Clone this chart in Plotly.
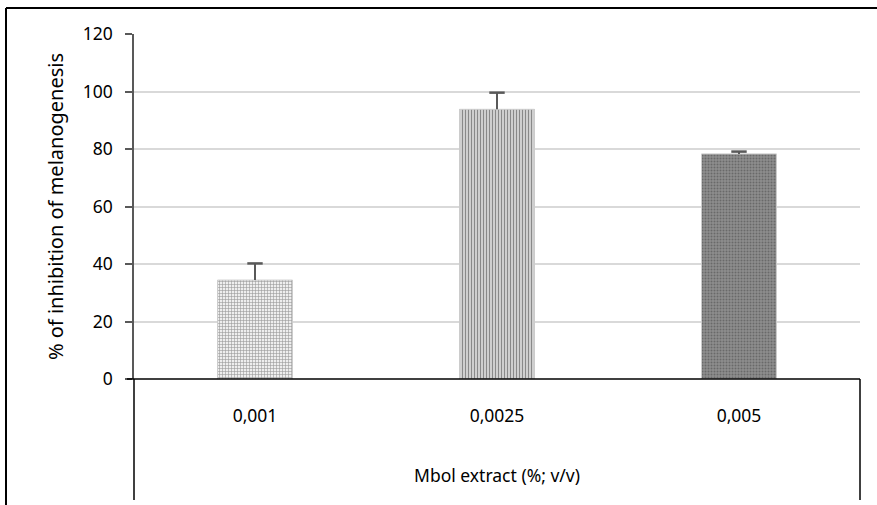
import plotly.graph_objects as go

categories = ["0,001", "0,0025", "0,005"]
values = [34.4, 93.8, 78.3]
errors = [5.8, 5.8, 0.8]
y_ticks = [0, 20, 40, 60, 80, 100, 120]

pattern_shapes = ["+", "|", "."]
pattern_bg = ["#eeeeee", "#cfcfcf", "#8e8e8e"]
pattern_fg = ["#dadada", "#b0b0b0", "#7c7c7c"]

fig = go.Figure()
fig.add_trace(go.Bar(
    x=categories, y=values,
    width=0.31,
    marker=dict(
        color=pattern_bg,
        pattern=dict(shape=pattern_shapes, bgcolor=pattern_bg, fgcolor=pattern_fg,
                     size=3, solidity=0.35),
        line=dict(color="#cccccc", width=1),
    ),
    showlegend=False,
))
# error bars: stem drawn downward from the top, cap as a marker (no cap at bar top)
tops = [v + e for v, e in zip(values, errors)]
fig.add_trace(go.Scatter(
    x=categories, y=tops, mode="markers",
    marker=dict(symbol="line-ew", size=11, line=dict(color="#595959", width=2.5)),
    error_y=dict(type="data", symmetric=False, array=[0, 0, 0], arrayminus=errors,
                 color="#595959", thickness=2, width=0),
    showlegend=False, hoverinfo="skip",
))

L, R, T, B = 134, 860, 34, 379
W, H = 877, 505
pw, ph = R - L, B - T

def px(x):
    return (x - L) / pw

def py(y):
    return (B - y) / ph

font = "Noto Sans, Liberation Sans, sans-serif"
fig.update_layout(
    width=W, height=H,
    margin=dict(l=L, r=W - R, t=T, b=H - B),
    paper_bgcolor="white", plot_bgcolor="white",
    font=dict(family=font, size=17, color="#000000"),
    xaxis=dict(
        type="category",
        showgrid=False, zeroline=False,
        showline=False,
        ticks="", ticklabelstandoff=24,
        tickfont=dict(size=17.5),
        title=dict(text="Mbol extract (%; v/v)", standoff=44, font=dict(size=17.5)),
        fixedrange=True,
    ),
    yaxis=dict(
        range=[0, 120],
        tickvals=y_ticks,
        showgrid=True, gridcolor="#d9d9d9", gridwidth=1.5,
        zeroline=False,
        showline=True, linecolor="#595959", linewidth=1.5,
        ticks="outside", ticklen=7, tickcolor="#595959", tickwidth=1.5,
        ticklabelstandoff=9,
        tickfont=dict(size=17.5),
        title=dict(text="% of inhibition of melanogenesis", standoff=14, font=dict(size=20)),
        fixedrange=True,
    ),
)

shapes = [
    dict(type="line", xref="paper", yref="paper", x0=px(127), x1=1, y0=0, y1=0,
         line=dict(color="#000000", width=1.5)),
    dict(type="line", xref="paper", yref="paper", x0=0, x1=0, y0=0, y1=py(500),
         line=dict(color="#000000", width=1.5)),
    dict(type="line", xref="paper", yref="paper", x0=1, x1=1, y0=0, y1=py(500),
         line=dict(color="#000000", width=1.5)),
    dict(type="line", xref="paper", yref="paper", x0=px(6), x1=px(W + 5), y0=py(8), y1=py(8),
         line=dict(color="#000000", width=2)),
    dict(type="line", xref="paper", yref="paper", x0=px(6), x1=px(6), y0=py(8), y1=py(H + 5),
         line=dict(color="#000000", width=2)),
]
fig.update_layout(shapes=shapes)

fig.write_html("out.html")
